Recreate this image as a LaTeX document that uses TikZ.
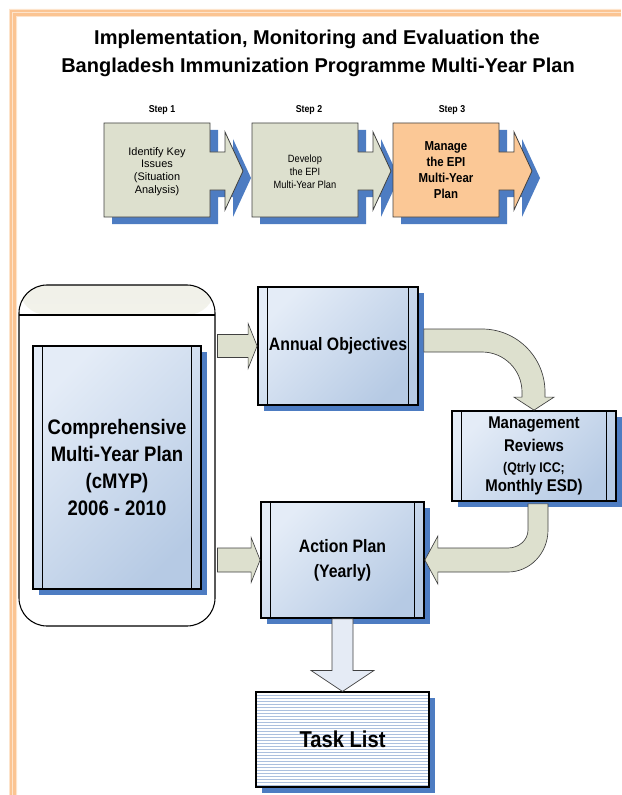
\documentclass[tikz,border=0pt]{standalone}
\usepackage{fontspec}
\setmainfont{Liberation Sans}[FakeStretch=0.88]
\newfontfamily\widefont{Liberation Sans}
\usetikzlibrary{calc}

\definecolor{shblue}{RGB}{77,124,194}
\definecolor{stepgreen}{RGB}{221,224,206}
\definecolor{steporange}{RGB}{251,200,150}
\definecolor{boxlight}{RGB}{228,236,247}
\definecolor{boxdark}{RGB}{182,202,228}
\definecolor{bandtop}{RGB}{241,241,233}
\definecolor{bandlow}{RGB}{250,250,246}
\definecolor{framepale}{RGB}{253,228,204}
\definecolor{frameline}{RGB}{251,196,146}
\definecolor{arrowblue}{RGB}{229,235,245}
\definecolor{taskline}{RGB}{172,192,222}
\definecolor{edgegray}{RGB}{64,64,64}

\newcommand\fsz[2]{\fontsize{#1}{#2}\selectfont}

% one step of the three-step process: shadow first, then the notched arrow box
\newcommand\stepshape[2]{%
  \begin{scope}[shift={(#1,0)}]
    \fill[shblue] (8,130) -- (114,130) -- (114,159) -- (129,159) -- (129,139)
      -- (147,178) -- (129,217) -- (129,197) -- (114,197) -- (114,224) -- (8,224) -- cycle;
    \draw[stepline, fill=#2] (0,123) -- (106,123) -- (106,152) -- (121,152) -- (121,132)
      -- (139,171) -- (121,210) -- (121,190) -- (106,190) -- (106,217) -- (0,217) -- cycle;
  \end{scope}}

\tikzset{
  shadowed/.style={preaction={fill=shblue, draw=none,
      transform canvas={shift={(4.5pt,-4.5pt)}}}},
  bluebox/.style={shadowed, draw=black, line width=1.3pt,
    top color=boxlight, bottom color=boxdark, shading angle=45,
    inner sep=0pt, align=center, text=black,
    path picture={
      \draw[line width=1.1pt]
        ($(path picture bounding box.north west)+(9.5,0)$) --
        ($(path picture bounding box.south west)+(9.5,0)$);
      \draw[line width=1.1pt]
        ($(path picture bounding box.north east)+(-9.5,0)$) --
        ($(path picture bounding box.south east)+(-9.5,0)$);}},
  blockarrow/.style={draw=edgegray, line width=0.5pt, fill=stepgreen, line join=miter},
  stepline/.style={draw=edgegray, line width=0.6pt},
  steplabel/.style={font=\bfseries\fsz{7.5}{8}},
  steptext/.style={align=center, inner sep=0pt},
  titletext/.style={anchor=base, font=\widefont\bfseries\fsz{15}{18}},
}

\begin{document}
\begin{tikzpicture}[x=0.75pt, y=-0.75pt]
\useasboundingbox (0,0) rectangle (621,795);

% page frame (top and left edges)
\fill[framepale] (9,795) -- (9,9) -- (621,9) -- (621,17) -- (17,17) -- (17,795) -- cycle;
\draw[frameline, line width=1.5pt] (10.8,795) -- (10.8,10.8) -- (621,10.8);
\draw[frameline, line width=2.1pt] (14.6,795) -- (14.6,14.6) -- (621,14.6);

% title
\node[titletext] (title1) at (317,45)
  {Implementation, Monitoring and Evaluation the};
\node[titletext] (title2) at (318,73)
  {Bangladesh Immunization Programme Multi-Year Plan};

% three-step process
\stepshape{104}{stepgreen}
\stepshape{252}{stepgreen}
\stepshape{393}{steporange}

\node[steplabel] (lab1) at (162,110) {Step 1};
\node[steplabel] (lab2) at (309,110) {Step 2};
\node[steplabel] (lab3) at (452,110) {Step 3};

\node[steptext, font=\widefont\fsz{8.2}{9.6}] (s1) at (157,171.5)
  {Identify Key\\Issues\\(Situation\\Analysis)};
\node[steptext, font=\fsz{7.9}{9.75}] (s2) at (305,172)
  {Develop\\the EPI\\Multi-Year Plan};
\node[steptext, font=\bfseries\fsz{9.75}{12}] (s3) at (446,170)
  {Manage\\the EPI\\Multi-Year\\Plan};

% container of the comprehensive plan
\node[draw=black, line width=0.8pt, rounded corners=21pt, fill=white,
  minimum width=147pt, minimum height=255.75pt,
  path picture={
    \fill[top color=bandtop, bottom color=bandlow]
      (path picture bounding box.north west) rectangle
      ($(path picture bounding box.north east)+(0,30)$);
    \draw[line width=0.8pt]
      ($(path picture bounding box.north west)+(0,30)$) --
      ($(path picture bounding box.north east)+(0,30)$);}]
  (cont) at (117,455.5) {};

% plan boxes
\node[bluebox, minimum width=126pt, minimum height=182.25pt,
  font=\bfseries\fsz{15.75}{20.25}] (cmyp) at (117,467.5)
  {Comprehensive\\Multi-Year Plan\\(cMYP)\\2006 - 2010};
\node[bluebox, minimum width=120pt, minimum height=88.5pt,
  font=\bfseries\fsz{13.5}{16}] (annual) at (338,346) {Annual Objectives};
\node[bluebox, minimum width=123pt, minimum height=67.5pt,
  font=\bfseries\fsz{12.75}{14.25}] (mgmt) at (534,456)
  {Management\\[3pt]Reviews\\[1.5pt]\fsz{10.5}{14.25}(Qtrly ICC;\\Monthly ESD)};
\node[bluebox, minimum width=122.25pt, minimum height=87pt,
  font=\bfseries\fsz{13.5}{18.75}] (action) at (342.5,560)
  {Action Plan\\(Yearly)};
\node[shadowed, draw=black, line width=0.8pt, fill=white,
  minimum width=129.75pt, minimum height=71.25pt,
  font=\bfseries\fsz{17.2}{20},
  path picture={
    \foreach \k in {1,...,31}
      \draw[taskline, line width=0.6pt]
        ($(path picture bounding box.north west)+(0,3*\k)$) -- ++(173,0);}]
  (task) at (342.5,739.5) {Task List};

% plan -> annual objectives
\coordinate (a1) at (cont.east |- annual.west);
\draw[blockarrow] ($(a1)+(2,-11.5)$) -- ($(annual.west)+(-9,-11.5)$)
  -- ($(annual.west)+(-9,-22.5)$) -- (annual.west)
  -- ($(annual.west)+(-9,22.5)$) -- ($(annual.west)+(-9,11.5)$)
  -- ($(a1)+(2,11.5)$) -- cycle;

% plan -> action plan
\coordinate (a2) at (cont.east |- action.west);
\draw[blockarrow] ($(a2)+(2,-12)$) -- ($(action.west)+(-9,-12)$)
  -- ($(action.west)+(-9,-22.5)$) -- (action.west)
  -- ($(action.west)+(-9,22.5)$) -- ($(action.west)+(-9,12)$)
  -- ($(a2)+(2,12)$) -- cycle;

% annual objectives -> management reviews (bent arrow)
\coordinate (k3) at (mgmt.north |- annual.east);
\draw[blockarrow] ($(annual.east)+(5,-17)$) -- ($(k3)+(-52,-17)$)
  .. controls ($(k3)+(-17.2,-17)$) and ($(k3)+(11,11.2)$) .. ($(k3)+(11,46)$)
  -- ($(mgmt.north)+(11,-13)$) -- ($(mgmt.north)+(20,-13)$) -- (mgmt.north)
  -- ($(mgmt.north)+(-20,-13)$) -- ($(mgmt.north)+(-12,-13)$)
  -- ($(k3)+(-12,46)$)
  .. controls ($(k3)+(-12,23.9)$) and ($(k3)+(-29.9,6)$) .. ($(k3)+(-52,6)$)
  -- ($(annual.east)+(5,6)$) -- cycle;

% management reviews -> action plan (bent arrow)
\coordinate (k4) at (mgmt.south |- action.east);
\draw[blockarrow] ($(mgmt.south)+(-6,2)$) -- ($(mgmt.south)+(14,2)$)
  -- ($(k4)+(14,-30)$)
  .. controls ($(k4)+(14,-6.8)$) and ($(k4)+(-3.9,12)$) .. ($(k4)+(-26,12)$)
  -- ($(action.east)+(13,12)$) -- ($(action.east)+(13,24)$) -- (action.east)
  -- ($(action.east)+(13,-24)$) -- ($(action.east)+(13,-12)$)
  -- ($(k4)+(-26,-12)$)
  .. controls ($(k4)+(-15,-12)$) and ($(k4)+(-6,-20)$) .. ($(k4)+(-6,-30)$)
  -- cycle;

% action plan -> task list
\draw[blockarrow, fill=arrowblue] ($(action.south)+(-10.5,0)$)
  -- ($(task.north)+(-10.5,-21)$) -- ($(task.north)+(-31.5,-21)$) -- (task.north)
  -- ($(task.north)+(31.5,-21)$) -- ($(task.north)+(10.5,-21)$)
  -- ($(action.south)+(10.5,0)$) -- cycle;
\end{tikzpicture}
\end{document}
